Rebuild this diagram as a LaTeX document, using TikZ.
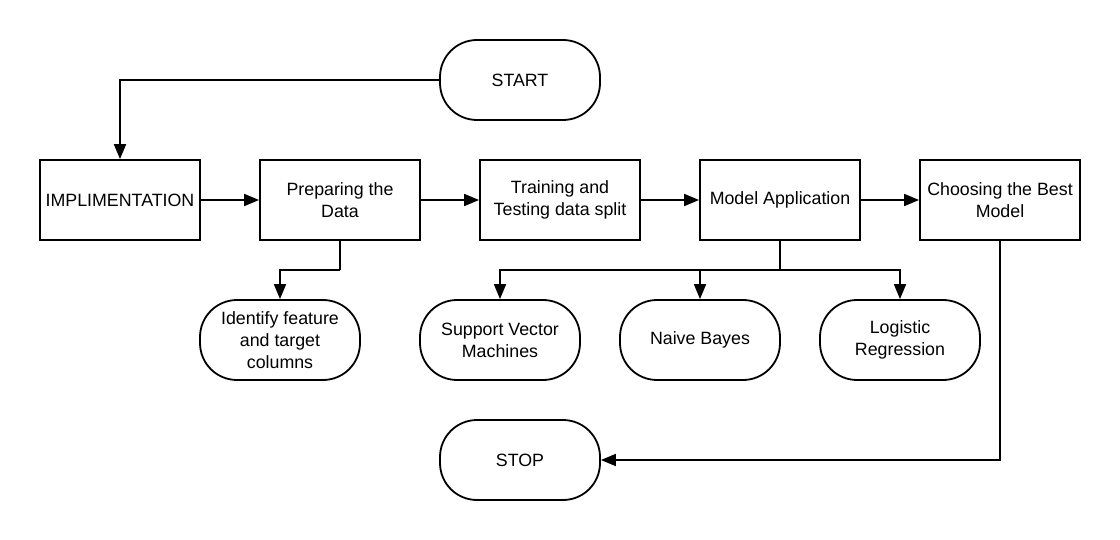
\documentclass[tikz,border=0pt]{standalone}
\usepackage{fontspec}
\setmainfont{Liberation Sans}
\usetikzlibrary{arrows.meta}
\begin{document}
\begin{tikzpicture}[x=1pt,y=-1pt,
  base/.style={draw=black, line width=1.8pt, minimum width=160pt, minimum height=80pt, inner sep=0pt, align=center, font=\fontsize{17.8}{22}\selectfont},
  procbox/.style={base, rectangle},
  termbox/.style={base, rectangle, rounded corners=37pt},
  conn/.style={line width=1.8pt, -{Triangle[length=15pt,width=12pt]}},
  plain/.style={line width=1.8pt}]
\useasboundingbox (0,0) rectangle (1120,540);
\fill[white] (0,0) rectangle (1120,540);
\node[termbox] (start) at (520,80) {START};
\node[procbox] (impl) at (120,200) {IMPLIMENTATION};
\node[procbox] (prep) at (340,200) {Preparing the\\Data};
\node[procbox] (train) at (560,200) {Training and\\Testing data split};
\node[procbox] (model) at (780,200) {Model Application};
\node[procbox] (best) at (1000,200) {Choosing the Best\\Model};
\node[termbox] (ident) at (280,340) {Identify feature\\and target\\columns};
\node[termbox] (svm) at (500,340) {Support Vector\\Machines};
\node[termbox] (nb) at (700,340) {Naive Bayes};
\node[termbox] (lr) at (900,340) {Logistic\\Regression};
\node[termbox] (stop) at (520,460) {STOP};
\coordinate (pj) at (340,270);
\coordinate (mj) at (780,270);
\draw[conn] (start.west) -| (impl.north);
\draw[conn] (impl) -- (prep);
\draw[conn] (prep) -- (train);
\draw[conn] (train) -- (model);
\draw[conn] (model) -- (best);
\draw[plain] (prep.south) -- (pj);
\draw[conn] (pj) -| (ident.north);
\draw[plain] (model.south) -- (mj);
\draw[conn] (mj) -| (svm.north);
\draw[conn] (mj) -| (nb.north);
\draw[conn] (mj) -| (lr.north);
\draw[conn] (best.south) |- (stop.east);
\end{tikzpicture}
\end{document}
